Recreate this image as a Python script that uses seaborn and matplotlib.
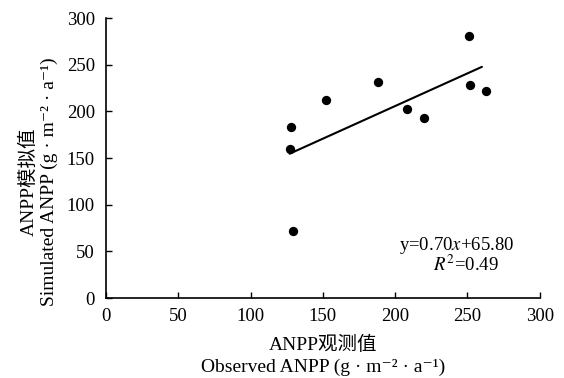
import matplotlib
matplotlib.use("Agg")
import matplotlib.pyplot as plt
import numpy as np
import pandas as pd
import seaborn as sns

# data
observed = [128, 127, 129, 152, 188, 208, 220, 251, 252, 263]
simulated = [183, 160, 72, 212, 232, 203, 193, 281, 228, 222]
slope = 0.70
intercept = 65.80
r2 = 0.49
xticks = [0, 50, 100, 150, 200, 250, 300]
yticks = [0, 50, 100, 150, 200, 250, 300]

sns.set_theme(style="ticks")
plt.rcParams['font.family'] = ['Liberation Serif', 'Noto Sans CJK SC', 'DejaVu Sans']
plt.rcParams['mathtext.fontset'] = 'stix'
plt.rcParams['xtick.direction'] = 'in'
plt.rcParams['ytick.direction'] = 'in'
plt.rcParams['text.color'] = 'black'
plt.rcParams['axes.labelcolor'] = 'black'
plt.rcParams['xtick.color'] = 'black'
plt.rcParams['ytick.color'] = 'black'

df = pd.DataFrame({"obs": observed, "sim": simulated})
xfit = np.array([min(observed), max(observed) - 3])
fit = pd.DataFrame({"x": xfit, "y": slope * xfit + intercept})

fig = plt.figure(figsize=(5.64, 3.78), dpi=100)
ax = fig.add_axes([0.188, 0.2116, 0.769, 0.7404])

sns.scatterplot(data=df, x="obs", y="sim", ax=ax, color="black", s=45,
                edgecolor="black", linewidth=0, zorder=3)
sns.lineplot(data=fit, x="x", y="y", ax=ax, color="black", linewidth=1.5)

ax.set_xlim(0, 300)
ax.set_ylim(0, 300)
ax.set_xticks(xticks)
ax.set_yticks(yticks)
ax.tick_params(labelsize=13.5, length=4, width=1, colors="black")
ax.tick_params(axis="x", pad=7)
ax.tick_params(axis="y", pad=8)
for s in ["left", "bottom"]:
    ax.spines[s].set_linewidth(1.2)
    ax.spines[s].set_color("black")
sns.despine(ax=ax)

ax.set_xlabel("ANPP观测值\nObserved ANPP (g · m⁻² · a⁻¹)", fontsize=14,
              linespacing=1.33, labelpad=8, color="black")
ax.set_ylabel("ANPP模拟值\nSimulated ANPP (g · m⁻² · a⁻¹)", fontsize=14,
              linespacing=1.22, color="black")
ax.yaxis.set_label_coords(-0.11, 0.414)

ax.text(242.6, 56, "y=%.2f$x$+%.2f" % (slope, intercept), ha="center", va="center",
        fontsize=13.5, color="black")
ax.text(249, 35.5, "$R^2$=%.2f" % r2, ha="center", va="center", fontsize=13.5,
        color="black")

fig.savefig("out.png", dpi=100)
